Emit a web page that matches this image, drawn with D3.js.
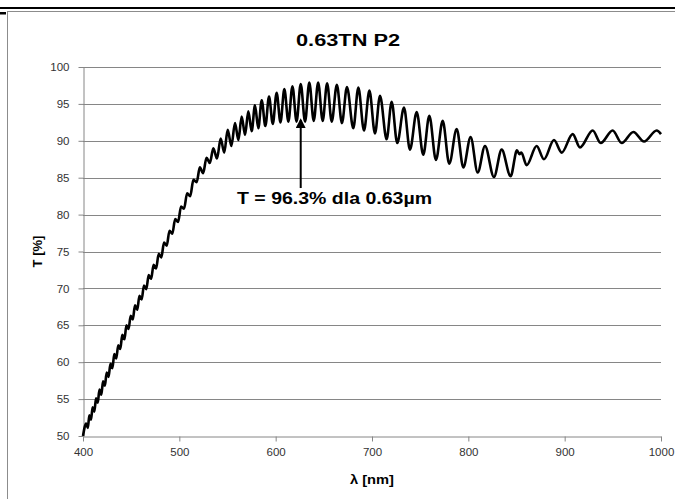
<!DOCTYPE html>
<html>
<head>
<meta charset="utf-8">
<script src="https://cdn.jsdelivr.net/npm/d3@7"></script>
<style>
body { margin: 0; background: #fff; }
text { font-family: "Liberation Sans", Arial, sans-serif; }
</style>
</head>
<body>
<script>
// wavelength [nm] of the read peaks / troughs
var wavelength = [
  400.0, 403.3, 405.0, 406.6, 408.3, 410.0, 411.8, 413.5, 415.3, 417.1,
  419.0, 420.8, 422.7, 424.6, 426.5, 428.5, 430.5, 432.5, 434.5, 436.6,
  438.7, 440.8, 443.0, 445.1, 447.3, 449.5, 451.7, 454.0, 456.3, 458.6,
  460.9, 463.3, 465.7, 468.2, 470.7, 473.3, 475.9, 478.6, 481.3, 484.1,
  486.9, 489.8, 492.7, 495.7, 498.7, 501.8, 504.9, 508.1, 511.3, 514.6,
  518.0, 521.3, 524.7, 528.2, 531.7, 535.3, 539.1, 542.9, 546.6, 550.2,
  554.0, 557.8, 561.3, 564.7, 568.2, 571.6, 575.1, 578.5, 582.0, 585.5,
  589.3, 593.1, 597.0, 601.0, 605.0, 609.0, 613.2, 617.4, 621.7, 626.0,
  630.5, 634.9, 639.5, 644.1, 648.8, 653.4, 658.2, 663.5, 668.8, 674.0,
  680.6, 685.8, 691.7, 697.3, 703.1, 708.3, 715.2, 720.4, 726.2, 733.2,
  739.4, 746.4, 753.2, 759.5, 766.4, 773.4, 780.2, 787.9, 794.8, 802.4,
  809.7, 817.3, 826.6, 834.6, 843.9, 850.5, 853.0, 855.0, 860.5, 870.9,
  878.5, 888.9, 896.9, 908.3, 915.9, 929.1, 937.4, 949.8, 959.2, 971.3,
  982.4, 995.5, 1000.0
];
// transmission [%]
var transmission = [
  50.0, 51.7, 51.1, 52.8, 52.2, 53.9, 53.3, 55.1, 54.5, 56.3,
  55.6, 57.4, 56.8, 58.6, 58.0, 59.8, 59.2, 61.1, 60.5, 62.3,
  61.8, 63.7, 63.1, 65.0, 64.5, 66.3, 65.8, 67.7, 67.1, 69.0,
  68.5, 70.4, 69.9, 71.8, 71.3, 73.2, 72.7, 74.7, 74.2, 76.2,
  75.8, 77.8, 77.4, 79.4, 79.0, 81.1, 80.8, 82.9, 82.5, 84.7,
  84.4, 86.4, 85.6, 87.7, 87.0, 89.0, 87.6, 90.3, 88.4, 91.5,
  89.3, 92.4, 90.1, 93.3, 90.8, 94.0, 91.3, 94.8, 91.7, 95.5,
  92.0, 96.0, 92.3, 96.5, 92.5, 97.0, 92.6, 97.4, 92.6, 97.7,
  92.6, 97.9, 92.7, 97.9, 92.7, 97.8, 92.6, 97.6, 92.4, 97.3,
  91.7, 97.2, 91.4, 96.8, 91.0, 96.1, 90.2, 95.3, 89.7, 94.5,
  88.8, 93.9, 88.1, 93.4, 87.4, 92.7, 86.9, 91.6, 86.4, 90.5,
  85.7, 89.3, 85.1, 88.8, 85.2, 88.7, 88.2, 88.4, 86.7, 89.3,
  87.5, 90.1, 88.4, 90.9, 89.1, 91.4, 89.7, 91.4, 89.7, 91.2,
  89.9, 91.4, 90.9
];

var xTicks = [400, 500, 600, 700, 800, 900, 1000];
var yTicks = [50, 55, 60, 65, 70, 75, 80, 85, 90, 95, 100];

var chartTitle = "0.63TN P2";
var xTitle = "\u03bb [nm]";
var yTitle = "T [%]";
var note = "T = 96.3% dla 0.63\u00b5m";
var noteLambda = 626;     // where the arrow points
var noteFrom = 83.6, noteTo = 92.8;

var W = 675, H = 499;
var plot = { left: 83, right: 661, top: 67, bottom: 436 };
var gridColor = "#868686";

var svg = d3.select("body").append("svg")
  .attr("width", W)
  .attr("height", H);

// chart frame (runs off the right / bottom like the screenshot)
svg.append("rect")
  .attr("x", 7.5).attr("y", 11.5)
  .attr("width", 720).attr("height", 520)
  .attr("fill", "#fff")
  .attr("stroke", "#8c8c8c");
svg.append("rect").attr("x", 0).attr("y", 7).attr("width", W).attr("height", 2).attr("fill", "#000");
svg.append("rect").attr("x", 0).attr("y", 12).attr("width", 6).attr("height", 2.5).attr("fill", "#000");

var x = d3.scaleLinear().domain([400, 1000]).range([plot.left, plot.right]);
var y = d3.scaleLinear().domain([50, 100]).range([plot.bottom, plot.top]);

// horizontal gridlines
svg.append("g")
  .selectAll("line")
  .data(yTicks.slice(1))
  .enter().append("line")
  .attr("x1", plot.left).attr("x2", plot.right)
  .attr("y1", function (d) { return Math.round(y(d)) + 0.5; })
  .attr("y2", function (d) { return Math.round(y(d)) + 0.5; })
  .attr("stroke", gridColor)
  .attr("stroke-width", 1);

// axes
var xAxis = svg.append("g")
  .attr("transform", "translate(0," + (plot.bottom + 0.5) + ")")
  .call(d3.axisBottom(x).tickValues(xTicks).tickSize(5).tickSizeOuter(0).tickPadding(6).tickFormat(d3.format("d")));
var yAxis = svg.append("g")
  .attr("transform", "translate(" + (plot.left + 0.5) + ",0)")
  .call(d3.axisLeft(y).tickValues(yTicks).tickSize(5).tickSizeOuter(0).tickPadding(9).tickFormat(d3.format("d")));

[xAxis, yAxis].forEach(function (g) {
  g.select(".domain").attr("stroke", gridColor);
  g.selectAll(".tick line").attr("stroke", gridColor);
  g.selectAll(".tick text")
    .attr("fill", "#333")
    .style("font-family", "'Liberation Sans', Arial, sans-serif")
    .style("font-size", "11.5px");
});

// the spectrum
var pts = wavelength.map(function (d, i) { return [d, transmission[i]]; });
var line = d3.line()
  .x(function (d) { return x(d[0]); })
  .y(function (d) { return y(d[1]); })
  .curve(d3.curveMonotoneX);

svg.append("path")
  .datum(pts)
  .attr("d", line)
  .attr("fill", "none")
  .attr("stroke", "#000")
  .attr("stroke-width", 2.6)
  .attr("stroke-linejoin", "round");

// titles
svg.append("text")
  .attr("x", 348).attr("y", 46)
  .attr("text-anchor", "middle")
  .attr("textLength", 104).attr("lengthAdjust", "spacingAndGlyphs")
  .style("font-size", "16px").style("font-weight", "bold")
  .text(chartTitle);

svg.append("text")
  .attr("x", (plot.left + plot.right) / 2).attr("y", 484)
  .attr("text-anchor", "middle")
  .attr("textLength", 44).attr("lengthAdjust", "spacingAndGlyphs")
  .style("font-size", "13px").style("font-weight", "bold")
  .text(xTitle);

svg.append("text")
  .attr("transform", "translate(42," + ((plot.top + plot.bottom) / 2) + ") rotate(-90)")
  .attr("text-anchor", "middle")
  .style("font-size", "13px").style("font-weight", "bold")
  .text(yTitle);

// annotation with arrow
svg.append("defs").append("marker")
  .attr("id", "head")
  .attr("viewBox", "0 0 10 10")
  .attr("refX", 8).attr("refY", 5)
  .attr("markerWidth", 5).attr("markerHeight", 5)
  .attr("orient", "auto")
  .append("path").attr("d", "M0,0L10,5L0,10z").attr("fill", "#000");

svg.append("line")
  .attr("x1", x(noteLambda)).attr("x2", x(noteLambda))
  .attr("y1", y(noteFrom)).attr("y2", y(noteTo))
  .attr("stroke", "#000").attr("stroke-width", 2)
  .attr("marker-end", "url(#head)");

svg.append("text")
  .attr("x", 237).attr("y", 204)
  .attr("textLength", 195).attr("lengthAdjust", "spacingAndGlyphs")
  .style("font-size", "16px").style("font-weight", "bold")
  .text(note);
</script>
</body>
</html>
